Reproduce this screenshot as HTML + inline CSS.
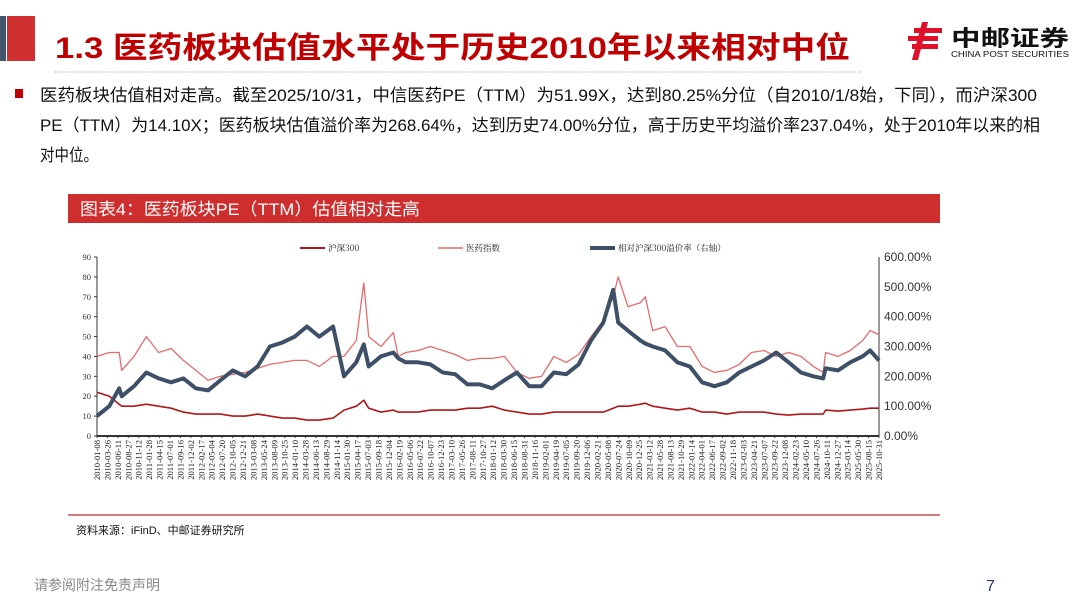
<!DOCTYPE html>
<html><head><meta charset="utf-8">
<style>
html,body{margin:0;padding:0;background:#fff;}
body{width:1080px;height:608px;overflow:hidden;font-family:"Liberation Sans","Noto Sans CJK SC",sans-serif;}
svg{display:block}
</style></head>
<body>
<svg id="page" width="1080" height="608" viewBox="0 0 1080 608" xmlns="http://www.w3.org/2000/svg">
  <rect x="0" y="16" width="6" height="45" fill="#44546a"/>
  <rect x="7" y="16" width="28" height="45" fill="#d03030"/>
  <text x="55" y="58" font-size="30" font-weight="bold" fill="#c00000" font-family="Liberation Sans, Noto Sans CJK SC, sans-serif" textLength="795" lengthAdjust="spacingAndGlyphs">1.3 医药板块估值水平处于历史2010年以来相对中位</text>
  <line x1="55" y1="72" x2="862" y2="72" stroke="#bbb" stroke-width="1.5" stroke-dasharray="1 1.5"/>
  <g>
    <g fill="#e0102a">
      <rect x="914" y="28" width="28" height="5"/><rect x="908" y="36" width="30" height="5"/><rect x="912" y="44" width="26" height="5"/>
      <rect x="928" y="22" width="6" height="38" transform="skewX(-15)"/>
    </g>
    <text x="951" y="46" font-size="22" font-weight="bold" fill="#111" font-family="Noto Sans CJK SC, sans-serif" textLength="118" lengthAdjust="spacingAndGlyphs">中邮证券</text>
    <text x="951" y="57" font-size="8" fill="#111" textLength="118" lengthAdjust="spacingAndGlyphs">CHINA POST SECURITIES</text>
  </g>
  <rect x="15" y="89" width="8" height="9" fill="#c00000"/>
  <g font-size="17" fill="#111" font-family="Liberation Sans, Noto Sans CJK SC, sans-serif">
    <text x="40" y="101" textLength="997" lengthAdjust="spacingAndGlyphs">医药板块估值相对走高。截至2025/10/31，中信医药PE（TTM）为51.99X，达到80.25%分位（自2010/1/8始，下同），而沪深300</text>
    <text x="40" y="131" textLength="1000" lengthAdjust="spacingAndGlyphs">PE（TTM）为14.10X；医药板块估值溢价率为268.64%，达到历史74.00%分位，高于历史平均溢价率237.04%，处于2010年以来的相</text>
    <text x="40" y="161" textLength="58" lengthAdjust="spacingAndGlyphs">对中位。</text>
  </g>
  <rect x="68" y="194" width="872" height="29" fill="#cf2e2e"/>
  <text x="80" y="215" font-size="17" fill="#fff" textLength="340" lengthAdjust="spacingAndGlyphs">图表4：医药板块PE（TTM）估值相对走高</text>
  <g id="chart"></g>
  <line x1="68" y1="515" x2="940" y2="515" stroke="#c85050" stroke-width="1.5"/>
  <text x="76" y="534" font-size="11" fill="#111">资料来源：iFinD、中邮证券研究所</text>
  <text x="34" y="590" font-size="14" fill="#888">请参阅附注免责声明</text>
  <text x="986" y="591" font-size="16" fill="#1f3864">7</text>
</svg>
<script>
const dates=[2010.0,2010.25,2010.45,2010.5,2010.75,2011.0,2011.25,2011.5,2011.75,2012.0,2012.25,2012.5,2012.75,2013.0,2013.25,2013.5,2013.75,2014.0,2014.25,2014.5,2014.78,2015.0,2015.25,2015.4,2015.5,2015.75,2016.0,2016.1,2016.25,2016.5,2016.75,2017.0,2017.25,2017.5,2017.75,2018.0,2018.25,2018.5,2018.75,2019.0,2019.25,2019.5,2019.75,2020.0,2020.25,2020.45,2020.55,2020.75,2021.0,2021.1,2021.25,2021.5,2021.75,2022.0,2022.25,2022.5,2022.75,2023.0,2023.25,2023.5,2023.75,2024.0,2024.25,2024.5,2024.7,2024.75,2025.0,2025.25,2025.5,2025.65,2025.83];
const pharmaPE=[40,42,42,33,40,50,42,44,38,33,28,30,31,32,34,36,37,38,38,35,40,40,48,77,50,45,52,40,42,43,45,43,41,38,39,39,40,32,29,30,40,37,41,50,58,70,80,65,67,70,53,55,45,45,35,32,33,36,42,43,40,42,40,35,32,42,40,43,48,53,51];
const hs300PE=[22,20,16,15,15,16,15,14,12,11,11,11,10,10,11,10,9,9,8,8,9,13,15,18,14,12,13,12,12,12,13,13,13,14,14,15,13,12,11,11,12,12,12,12,12,14,15,15,16,16.5,15,14,13,14,12,12,11,12,12,12,11,10.5,11,11,11,13,12.5,13,13.5,14,14];
const premiumPct=[67,100,160,133,167,213,193,180,193,160,153,187,220,200,233,300,313,333,367,333,367,200,247,307,233,267,280,260,247,247,240,213,207,173,173,160,187,213,167,167,213,207,240,320,380,490,380,353,320,310,300,287,247,233,180,167,180,213,233,253,280,247,213,200,193,227,220,247,267,287,253];
const leftTicks=[0,10,20,30,40,50,60,70,80,90];
const rightTicks=["0.00%","100.00%","200.00%","300.00%","400.00%","500.00%","600.00%"];
const rightVals=[0,100,200,300,400,500,600];

const NS="http://www.w3.org/2000/svg";
const g=document.getElementById('chart');
const X0=97,X1=879,Y0=436,Y1=257,T0=2010.0,T1=2025.83;
const xs=t=>X0+(t-T0)/(T1-T0)*(X1-X0);
const yl=v=>Y0-v/90*(Y0-Y1);
const yr=v=>Y0-v/600*(Y0-Y1);
function mk(tag,attrs,parent){const e=document.createElementNS(NS,tag);for(const k in attrs)e.setAttribute(k,attrs[k]);(parent||g).appendChild(e);return e;}

let ax=mk('line',{x1:X0,y1:Y1,x2:X0,y2:Y0,stroke:'#333','stroke-width':1});


let axr=mk('line',{x1:X1,y1:Y1,x2:X1,y2:Y0,stroke:'#333','stroke-width':1});


let axb=mk('line',{x1:X0,y1:Y0,x2:X1,y2:Y0,stroke:'#333','stroke-width':2});



leftTicks.forEach(v=>{
  const t=mk('text',{x:X0-6,y:yl(v)+3,'font-size':8.5,'text-anchor':'end',fill:'#333','font-family':'Liberation Serif, serif'});
  t.textContent=v;
  
  
  mk('line',{x1:X0-3,y1:yl(v),x2:X0,y2:yl(v),stroke:'#333'});
});
rightVals.forEach((v,i)=>{
  const t=mk('text',{x:X1+5,y:yr(v)+4,'font-size':12,fill:'#333'});
  t.textContent=rightTicks[i];
  
  
});
const start=new Date(Date.UTC(2010,0,8)), end=new Date(Date.UTC(2025,9,31));
const pad=n=>String(n).padStart(2,'0');
for(let d=new Date(start);d<=end;d=new Date(d.getTime()+77*864e5)){
  const t=T0+(d-start)/(end-start)*(T1-T0);
  const x=xs(t);
  const lab=mk('text',{x:0,y:0,'font-size':8.6,fill:'#222','text-anchor':'end','font-family':'Liberation Serif, serif',transform:`translate(${x+3},${Y0+4}) rotate(-90)`});
  lab.textContent=`${d.getUTCFullYear()}-${pad(d.getUTCMonth()+1)}-${pad(d.getUTCDate())}`;
  
  
  mk('line',{x1:x,y1:Y0,x2:x,y2:Y0+2,stroke:'#333'});
}
function series(vals,yf,color,w,name){
  const p=mk('polyline',{points:vals.map((v,i)=>xs(dates[i]).toFixed(1)+','+yf(v).toFixed(1)).join(' '),fill:'none',stroke:color,'stroke-width':w,'stroke-linejoin':'round'});
  
  
}
series(pharmaPE,yl,'#e86a6a',1.3,'pharma-pe-line');
series(hs300PE,yl,'#b01818',1.6,'hs300-pe-line');
series(premiumPct,yr,'#3e5068',4,'premium-line');

const leg=[[300,'#b01818',2,'沪深300','legend-hs300'],[438,'#e86a6a',1.5,'医药指数','legend-pharma'],[590,'#3e5068',4,'相对沪深300溢价率（右轴）','legend-premium']];
leg.forEach(([x,c,w,txt,nm])=>{
  const grp=mk('g',{});
  
  
  mk('line',{x1:x,y1:248,x2:x+25,y2:248,stroke:c,'stroke-width':w},grp);
  const t=mk('text',{x:x+28,y:251,'font-size':8.5,fill:'#222','font-family':'Noto Serif CJK SC, serif'},grp);
  t.textContent=txt;
});
</script>
</body></html>
